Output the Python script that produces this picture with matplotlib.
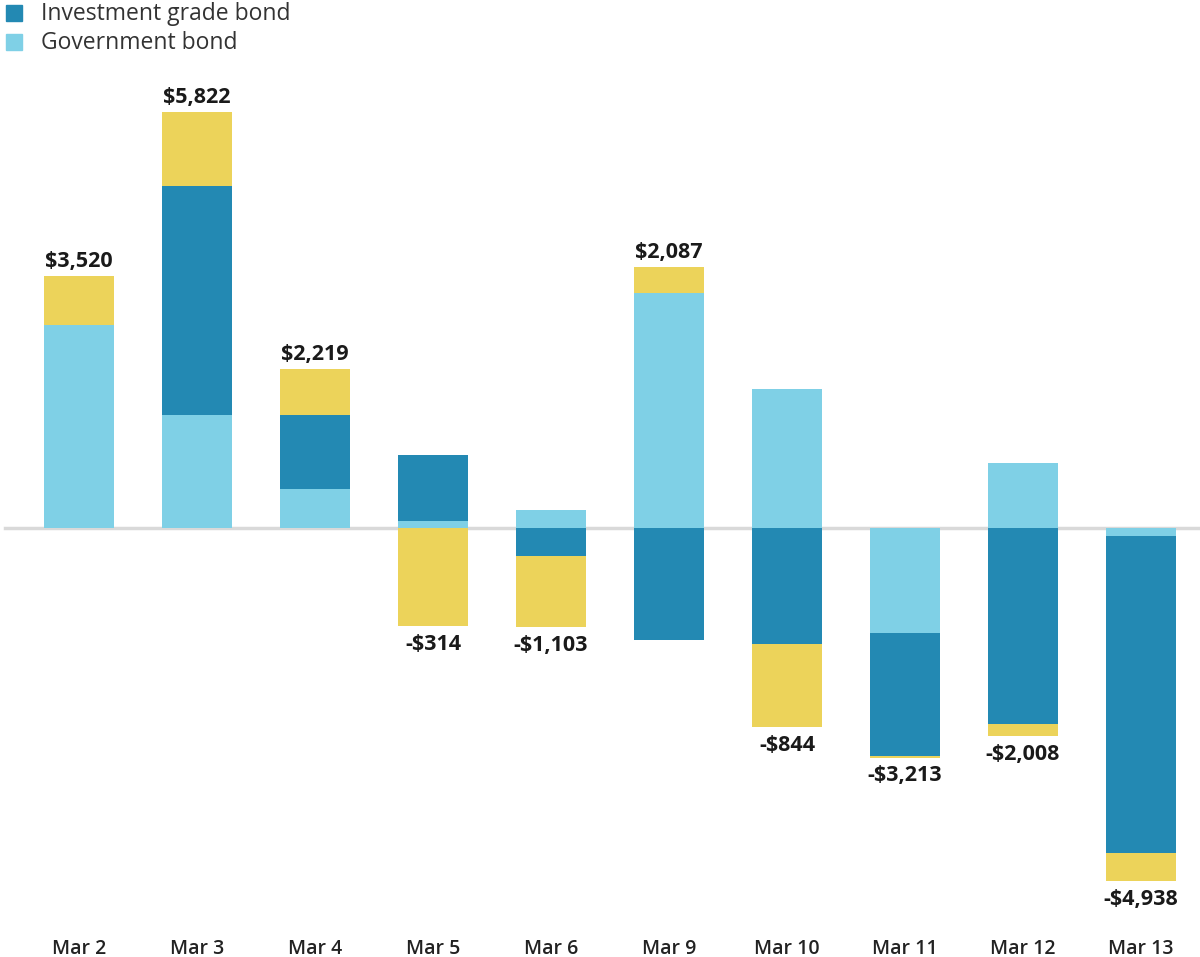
import numpy as np
import matplotlib
matplotlib.use("Agg")
import matplotlib.pyplot as plt
from matplotlib.patches import Rectangle

# daily flows by bond type, $ millions
days = ["Mar 2", "Mar 3", "Mar 4", "Mar 5", "Mar 6", "Mar 9", "Mar 10", "Mar 11", "Mar 12", "Mar 13"]
government = [2840, 1580, 546, 98, 252, 3290, 1945, -1470, 910, -112]
investment_grade = [0, 3206, 1036, 924, -392, -1568, -1624, -1722, -2743, -4434]
other = [680, 1036, 637, -1375, -990, 365, -1165, -21, -175, -392]
totals = [3520, 5822, 2219, -314, -1103, 2087, -844, -3213, -2008, -4938]

legend_names = ["Investment grade bond", "Government bond"]

c_ig = "#2389b3"
c_gov = "#7fd0e6"
c_other = "#ecd35a"

plt.rcParams['font.family'] = ['Open Sans', 'DejaVu Sans']

fig = plt.figure(figsize=(12, 9.57), dpi=100)
ax = fig.add_axes([0, 1 - 915 / 957, 1, (915 - 70) / 957])

x = np.arange(len(days))
w = 0.593

pos_base = np.zeros(len(days))
neg_base = np.zeros(len(days))
for series, color in [(government, c_gov), (investment_grade, c_ig), (other, c_other)]:
    vals = np.array(series, dtype=float)
    bottoms = np.where(vals >= 0, pos_base, neg_base)
    ax.bar(x, vals, w, bottom=bottoms, color=color, zorder=3)
    pos_base = pos_base + np.where(vals >= 0, vals, 0)
    neg_base = neg_base + np.where(vals < 0, vals, 0)

for i, t in enumerate(totals):
    lab = ("-$" if t < 0 else "$") + f"{abs(t):,}"
    if t >= 0:
        ax.text(x[i], pos_base[i] + 60, lab, ha="center", va="bottom",
                fontsize=15.5, fontweight="bold", color="#1a1a1a")
    else:
        ax.text(x[i], neg_base[i] - 110, lab, ha="center", va="top",
                fontsize=15.5, fontweight="bold", color="#1a1a1a")

ax.axhline(0, xmin=0.004, xmax=1, color="#d9d9d9", lw=2.5, zorder=1)

ax.set_xlim(-79 / 118, (1200 - 79) / 118)
ax.set_ylim(-(915 - 528) / 0.07145, (528 - 70) / 0.07145)
ax.set_xticks(x)
ax.set_xticklabels(days, fontsize=14, fontweight="semibold", color="#222222")
ax.tick_params(axis="x", length=0, pad=17)
ax.set_yticks([])
for s in ax.spines.values():
    s.set_visible(False)

# legend drawn by hand in the top-left corner
for j, (name, color) in enumerate(zip(legend_names, [c_ig, c_gov])):
    ytop = 5 + j * 29
    fig.patches.append(Rectangle((6 / 1200, 1 - (ytop + 16) / 957), 16 / 1200, 16 / 957,
                                 transform=fig.transFigure, color=color))
    fig.text(41 / 1200, 1 - (ytop + 9) / 957, name, fontsize=16.5, color="#333333", va="center")

fig.savefig("out.png", dpi=100)
